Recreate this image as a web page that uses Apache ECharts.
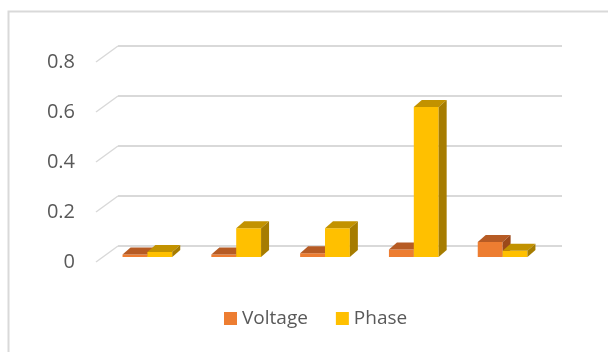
<!DOCTYPE html>
<html>
<head>
<meta charset="utf-8">
<script src="https://cdn.jsdelivr.net/npm/echarts@6/dist/echarts.min.js"></script>
<style>
  html, body { margin: 0; padding: 0; background: #ffffff; }
  #chart { width: 608px; height: 352px; }
</style>
</head>
<body>
<div id="chart"></div>
<script>
// Five measurement groups, two series
const categories = ['1', '2', '3', '4', '5'];
const voltage = [0.01, 0.01, 0.015, 0.03, 0.06];
const phase = [0.02, 0.115, 0.115, 0.6, 0.025];
const yTicks = [0, 0.2, 0.4, 0.6, 0.8];

const Y_MIN = 0, Y_MAX = 0.8, Y_STEP = 0.2;
const FONT = '"Open Sans", "Liberation Sans", sans-serif';

// Pixel depth of the 3D extrusion
const BAR_DX = 8, BAR_DY = -7;      // bar thickness
const WALL_DX = 22, WALL_DY = -16;  // floor depth (side wall diagonals)

const palette = {
  Voltage: { front: '#ED7D31', top: '#B65B24', side: '#9B491A' },
  Phase:   { front: '#FFC000', top: '#C29200', side: '#A67C00' }
};

function barRenderer(slot, colors) {
  return function (params, api) {
    const cat = api.value(0);
    const v = api.value(1);
    const band = api.size([1, 0])[0];
    const w = band * 0.28;
    const base = api.coord([cat, 0]);
    const top = api.coord([cat, v]);
    const x0 = base[0] + slot * w;
    const x1 = x0 + w;
    const yb = base[1], yt = top[1];
    return {
      type: 'group',
      children: [
        { type: 'rect', shape: { x: x0, y: yt, width: w, height: yb - yt },
          style: { fill: colors.front } },
        { type: 'polygon', shape: { points: [[x0, yt], [x1, yt], [x1 + BAR_DX, yt + BAR_DY], [x0 + BAR_DX, yt + BAR_DY]] },
          style: { fill: colors.top } },
        { type: 'polygon', shape: { points: [[x1, yt], [x1 + BAR_DX, yt + BAR_DY], [x1 + BAR_DX, yb + BAR_DY], [x1, yb]] },
          style: { fill: colors.side } }
      ]
    };
  };
}

function diagRenderer(params, api) {
  const p = api.coord([0, api.value(0)]);
  return {
    type: 'line',
    shape: { x1: p[0], y1: p[1], x2: p[0] + WALL_DX, y2: p[1] + WALL_DY },
    style: { stroke: '#d9d9d9', lineWidth: 1.5 }
  };
}

const valueAxisBase = { type: 'value', min: Y_MIN, max: Y_MAX, interval: Y_STEP,
  axisLine: { show: false }, axisTick: { show: false } };

const chart = echarts.init(document.getElementById('chart'), null, { renderer: 'canvas' });
chart.setOption({
  animation: false,
  backgroundColor: '#ffffff',
  grid: [
    // front plane of the bars
    { left: 103, width: 444, top: 57, height: 200 },
    // back wall
    { left: 118, width: 444, top: 46, height: 200 },
    // front edge of the floor, carries the value labels
    { left: 96, width: 22, top: 62, height: 200 }
  ],
  xAxis: [
    { type: 'category', data: categories, gridIndex: 0, show: false, boundaryGap: true },
    { type: 'category', data: categories, gridIndex: 1, show: false },
    { type: 'value', min: 0, max: 1, gridIndex: 2, show: false }
  ],
  yAxis: [
    Object.assign({}, valueAxisBase, { gridIndex: 0, axisLabel: { show: false }, splitLine: { show: false } }),
    Object.assign({}, valueAxisBase, { gridIndex: 1, axisLabel: { show: false },
      splitLine: { show: true, lineStyle: { color: '#d9d9d9', width: 2 } } }),
    Object.assign({}, valueAxisBase, { gridIndex: 2, splitLine: { show: false },
      axisLabel: { show: true, color: '#595959', fontSize: 20, fontFamily: FONT, margin: 21,
        padding: [5, 0, 0, 0],
        formatter: v => String(+v.toFixed(1)) } })
  ],
  legend: {
    data: ['Voltage', 'Phase'],
    left: 219, top: 304,
    icon: 'rect', itemWidth: 13, itemHeight: 13, itemGap: 28,
    textStyle: { color: '#595959', fontSize: 19, fontFamily: FONT, padding: [0, 0, 0, 0] }
  },
  graphic: [
    { type: 'rect', left: 6, top: 9, shape: { width: 640, height: 380 },
      style: { fill: 'none', stroke: '#d9d9d9', lineWidth: 2 }, silent: true, z: -1 }
  ],
  series: [
    { name: 'wall', type: 'custom', xAxisIndex: 2, yAxisIndex: 2,
      data: yTicks.map(t => [t]), renderItem: diagRenderer, silent: true, z: 1 },
    { name: 'Voltage', type: 'custom', xAxisIndex: 0, yAxisIndex: 0,
      itemStyle: { color: palette.Voltage.front },
      data: voltage.map((v, i) => [i, v]), renderItem: barRenderer(-1, palette.Voltage), z: 3 },
    { name: 'Phase', type: 'custom', xAxisIndex: 0, yAxisIndex: 0,
      itemStyle: { color: palette.Phase.front },
      data: phase.map((v, i) => [i, v]), renderItem: barRenderer(0, palette.Phase), z: 4 }
  ]
});
</script>
</body>
</html>
